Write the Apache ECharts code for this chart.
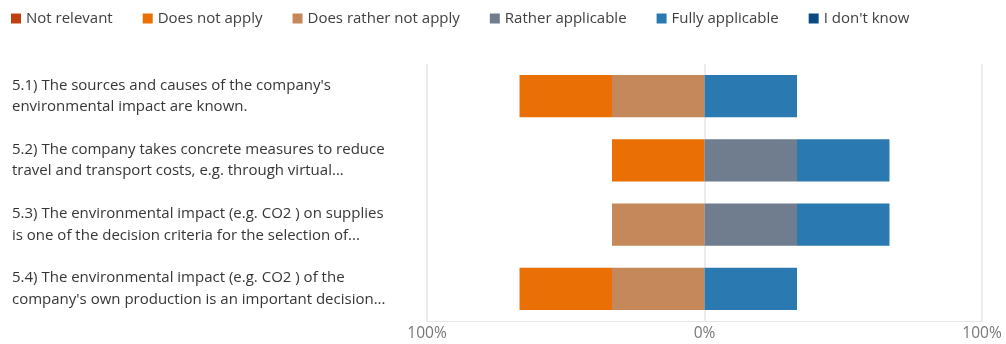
<!DOCTYPE html>
<html>
<head>
<meta charset="utf-8">
<script src="https://cdn.jsdelivr.net/npm/echarts@6/dist/echarts.min.js"></script>
<style>html,body{margin:0;padding:0;background:#fff}#c{width:1006px;height:344px}</style>
</head>
<body>
<div id="c"></div>
<script>
var categories = [
  "5.1) The sources and causes of the company's\nenvironmental impact are known.",
  "5.2) The company takes concrete measures to reduce\ntravel and transport costs, e.g. through virtual...",
  "5.3) The environmental impact (e.g. CO2 ) on supplies\nis one of the decision criteria for the selection of...",
  "5.4) The environmental impact (e.g. CO2 ) of the\ncompany's own production is an important decision..."
];
var legendOrder = ["Not relevant", "Does not apply", "Does rather not apply", "Rather applicable", "Fully applicable", "I don't know"];
// percentages (negative side shown to the left of 0)
var notRelevant = [0, 0, 0, 0];
var doesNotApply = [33.33, 33.33, 0, 33.33];
var doesRatherNotApply = [33.33, 0, 33.33, 33.33];
var ratherApplicable = [0, 33.33, 33.33, 0];
var fullyApplicable = [33.33, 33.33, 33.33, 33.33];
var dontKnow = [0, 0, 0, 0];
var tickValues = [-100, 0, 100];

var colors = {
  "Not relevant": "#C13E0E",
  "Does not apply": "#EA6F05",
  "Does rather not apply": "#C4885B",
  "Rather applicable": "#6F7D8E",
  "Fully applicable": "#2B79B1",
  "I don't know": "#0B4A80"
};

function neg(a){ return a.map(function(v){ return -v; }); }
function mk(name, data){
  return {
    name: name, type: 'bar', stack: 'total', data: data,
    barWidth: '66%',
    itemStyle: { color: colors[name] },
    emphasis: { disabled: true }
  };
}
// order from zero outward for negative side
var series = [
  mk("Does rather not apply", neg(doesRatherNotApply)),
  mk("Does not apply", neg(doesNotApply)),
  mk("Not relevant", neg(notRelevant)),
  mk("Rather applicable", ratherApplicable),
  mk("Fully applicable", fullyApplicable),
  mk("I don't know", dontKnow)
];

var chart = echarts.init(document.getElementById('c'), null, {renderer: 'canvas'});
chart.setOption({
  animation: false,
  textStyle: { fontFamily: "'Open Sans', 'Noto Sans', sans-serif" },
  legend: {
    data: legendOrder,
    left: 6, top: 6,
    itemWidth: 10, itemHeight: 10, itemGap: 30,
    icon: 'rect',
    textStyle: { fontSize: 15, color: '#404040', fontFamily: "'Open Sans', sans-serif" }
  },
  grid: { left: 427, right: 24, top: 64, bottom: 23, containLabel: false },
  xAxis: {
    type: 'value', min: -100, max: 100, interval: 100,
    axisLine: { show: true, lineStyle: { color: '#e6e6e6' } },
    axisTick: { show: false },
    splitLine: { show: true, lineStyle: { color: '#e6e6e6', width: 1.5 } },
    axisLabel: {
      formatter: function(v){ return Math.abs(v) + '%'; },
      color: '#777', fontSize: 15.5, margin: 5
    }
  },
  yAxis: {
    type: 'category', inverse: true, data: categories,
    axisLine: { show: false }, axisTick: { show: false },
    axisLabel: {
      align: 'left', margin: 415, color: '#363636', fontSize: 15, lineHeight: 21.5
    }
  },
  series: series
});
</script>
</body>
</html>
